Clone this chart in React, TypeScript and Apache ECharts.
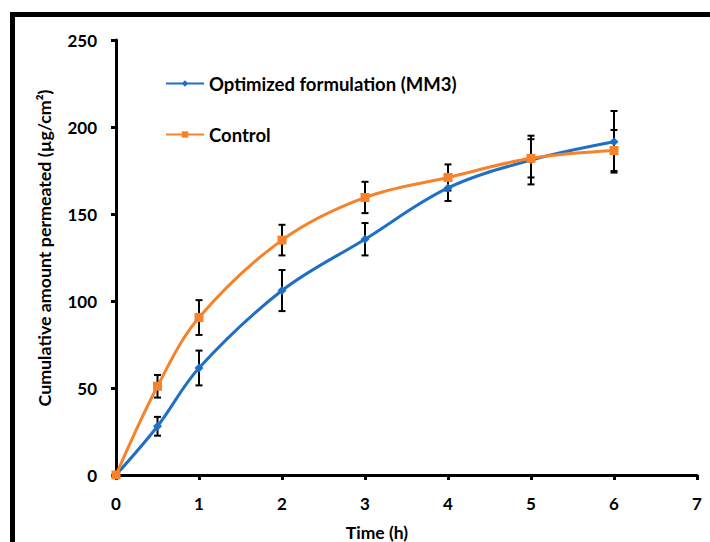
import React, { useEffect, useRef } from "react";
import * as echarts from "echarts";

const time = [0, 0.5, 1, 2, 3, 4, 5, 6];
const mm3 = [0, 28, 61.5, 106, 135.5, 165, 181, 191.5];
const mm3Err = [0, 5.4, 10, 11.8, 9.3, 7.5, 14, 17.7];
const control = [0, 51, 90.5, 135, 159.5, 171, 182, 186.5];
const controlErr = [0, 6.5, 10, 8.8, 9, 7.5, 11, 11.8];
const xTicks = [0, 1, 2, 3, 4, 5, 6, 7];
const yTicks = [0, 50, 100, 150, 200, 250];

const BLUE = "#1F6FC6";
const ORANGE = "#F7822A";
const FONT = "Lato";

function errData(vals: number[], errs: number[]) {
  return time.map((t, i) => [t, vals[i], errs[i]]);
}

function renderErr(params: any, api: any) {
  const x = api.value(0);
  const y = api.value(1);
  const e = api.value(2);
  if (!e) return null;
  const top = api.coord([x, y + e]);
  const bot = api.coord([x, y - e]);
  const cap = 3.5;
  const style = { stroke: "#000", lineWidth: 2 };
  return {
    type: "group",
    children: [
      { type: "line", shape: { x1: top[0], y1: top[1], x2: bot[0], y2: bot[1] }, style },
      { type: "line", shape: { x1: top[0] - cap, y1: top[1], x2: top[0] + cap, y2: top[1] }, style },
      { type: "line", shape: { x1: bot[0] - cap, y1: bot[1], x2: bot[0] + cap, y2: bot[1] }, style },
    ],
  };
}

export default function App() {
  const ref = useRef<HTMLDivElement>(null);
  useEffect(() => {
    if (!ref.current) return;
    const chart = echarts.init(ref.current, null, { renderer: "svg" });
    chart.setOption({
      animation: false,
      backgroundColor: "#fff",
      grid: { left: 116, right: 13, top: 40, bottom: 67, containLabel: false },
      legend: {
        data: ["Optimized formulation (MM3)", "Control"],
        orient: "vertical",
        left: 160,
        top: 69,
        itemWidth: 38,
        itemHeight: 8,
        itemGap: 32,
        textStyle: { fontFamily: FONT, fontWeight: "bold", fontSize: 18.5, color: "#000" },
      },
      xAxis: {
        type: "value",
        min: 0,
        max: 7,
        interval: 1,
        splitLine: { show: false },
        axisLine: { show: true, onZero: false, lineStyle: { color: "#000", width: 3 } },
        axisTick: { show: true, length: 5, lineStyle: { color: "#000", width: 3 } },
        axisLabel: {
          margin: 20,
          fontFamily: FONT,
          fontWeight: "bold",
          fontSize: 17,
          color: "#000",
          formatter: (v: number) => (xTicks.includes(v) ? String(v) : ""),
        },
      },
      yAxis: {
        type: "value",
        min: 0,
        max: 250,
        interval: 50,
        splitLine: { show: false },
        axisLine: { show: true, lineStyle: { color: "#000", width: 3 } },
        axisTick: { show: true, length: 5, lineStyle: { color: "#000", width: 3 } },
        axisLabel: {
          margin: 19,
          fontFamily: FONT,
          fontWeight: "bold",
          fontSize: 17,
          color: "#000",
          formatter: (v: number) => (yTicks.includes(v) ? String(v) : ""),
        },
      },
      graphic: [
        {
          type: "rect",
          shape: { x: 12.5, y: 14.5, width: 800, height: 700 },
          style: { fill: "none", stroke: "#000", lineWidth: 5 },
          silent: true,
        },
        {
          type: "text",
          x: 377,
          y: 532,
          style: {
            text: "Time (h)",
            fontFamily: FONT,
            fontWeight: "bold",
            fontSize: 17.5,
            fill: "#000",
            textAlign: "center",
            textVerticalAlign: "middle",
          },
        },
        {
          type: "text",
          x: 44,
          y: 248,
          rotation: Math.PI / 2,
          style: {
            text: "Cumulative amount permeated (µg/cm²)",
            fontFamily: FONT,
            fontWeight: "bold",
            fontSize: 17.8,
            fill: "#000",
            textAlign: "center",
            textVerticalAlign: "middle",
          },
        },
      ],
      series: [
        {
          type: "custom",
          name: "errMM3",
          renderItem: renderErr,
          data: errData(mm3, mm3Err),
          z: 1,
          silent: true,
        },
        {
          type: "custom",
          name: "errControl",
          renderItem: renderErr,
          data: errData(control, controlErr),
          z: 1,
          silent: true,
        },
        {
          type: "line",
          name: "Optimized formulation (MM3)",
          data: time.map((t, i) => [t, mm3[i]]),
          smooth: 0.35,
          symbol: "diamond",
          symbolSize: 9,
          itemStyle: { color: BLUE },
          lineStyle: { color: BLUE, width: 3 },
          z: 3,
        },
        {
          type: "line",
          name: "Control",
          data: time.map((t, i) => [t, control[i]]),
          smooth: 0.35,
          symbol: "rect",
          symbolSize: 9,
          itemStyle: { color: ORANGE },
          lineStyle: { color: ORANGE, width: 3 },
          z: 4,
        },
      ],
    });
    return () => chart.dispose();
  }, []);
  return (
    <div
      ref={ref}
      style={{ position: "absolute", left: 0, top: 0, width: 710, height: 542 }}
    />
  );
}
